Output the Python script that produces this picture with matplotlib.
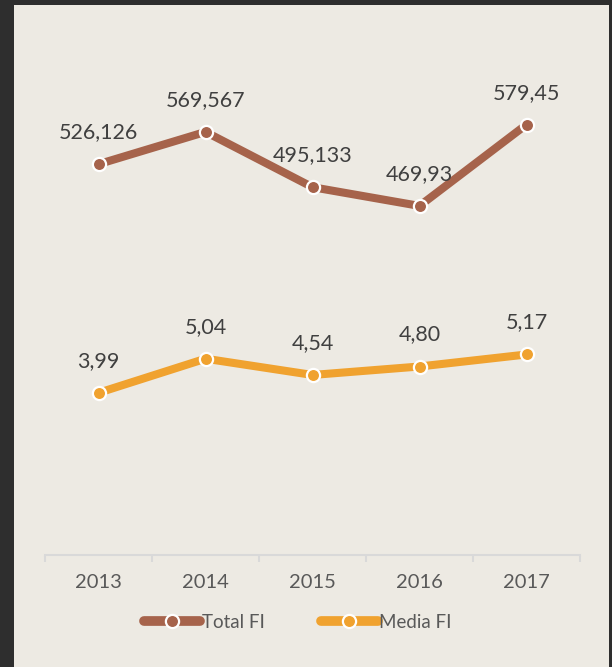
import matplotlib
matplotlib.use("Agg")
import matplotlib.pyplot as plt
from matplotlib.patches import Rectangle

years = ["2013", "2014", "2015", "2016", "2017"]
total_fi = [526.126, 569.567, 495.133, 469.93, 579.45]
media_fi = [3.99, 5.04, 4.54, 4.80, 5.17]

BROWN = "#A6634B"
ORANGE = "#F0A22F"
TXT = "#595959"
BG = "#EDEAE3"

plt.rcParams['font.family'] = ['Lato', 'DejaVu Sans']

W, H = 612, 667
fig = plt.figure(figsize=(W / 100, H / 100), dpi=100)
fig.patch.set_facecolor("#2e2e2e")
fig.patches.append(Rectangle((14 / W, 0), (609 - 14) / W, (H - 5) / H,
                             transform=fig.transFigure, facecolor=BG,
                             edgecolor="none", zorder=-10))

left, right = 45 / W, 580 / W
bottom, top = (H - 555) / H, (H - 35) / H
ax = fig.add_axes([left, bottom, right - left, top - bottom])
ax.set_facecolor("none")
ax2 = ax.twinx()
ax2.set_facecolor("none")

x = list(range(len(years)))
l1, = ax.plot(x, total_fi, color=BROWN, lw=5.8, marker="o", ms=9.5,
              mfc=BROWN, mec="white", mew=1.6, solid_capstyle="round",
              label="Total FI", zorder=3)
l2, = ax2.plot(x, media_fi, color=ORANGE, lw=5.8, marker="o", ms=9.5,
               mfc=ORANGE, mec="white", mew=1.6, solid_capstyle="round",
               label="Media FI", zorder=3)

ax.set_xlim(-0.5, len(years) - 0.5)
ax.set_ylim(0, 700)
ax2.set_ylim(-1, 15)

for xi, v in zip(x, total_fi):
    ax.annotate(str(v).replace(".", ","), (xi, v), xytext=(0, 23),
                textcoords="offset points", ha="center", va="center",
                fontsize=15.5, color="#404040")
for xi, v in zip(x, media_fi):
    ax2.annotate(f"{v:.2f}".replace(".", ","), (xi, v), xytext=(0, 23),
                 textcoords="offset points", ha="center", va="center",
                 fontsize=15.5, color="#404040")

for a in (ax, ax2):
    for s in ("top", "right", "left"):
        a.spines[s].set_visible(False)
    a.set_yticks([])
ax2.spines["bottom"].set_visible(False)
ax.spines["bottom"].set_color("#D9D9D9")
ax.spines["bottom"].set_linewidth(1.5)

ax.set_xticks(x)
ax.set_xticklabels(years, fontsize=14.5, color=TXT)
ax.tick_params(axis="x", which="major", length=0, pad=14)
ax.set_xticks([i - 0.5 for i in range(len(years) + 1)], minor=True)
ax.tick_params(axis="x", which="minor", length=5, width=1.5, color="#D9D9D9",
               direction="out")

leg = fig.legend(handles=[l1, l2], loc="center", bbox_to_anchor=(298 / W, (H - 622) / H),
                 ncol=2, frameon=False, fontsize=13.5, handlelength=3.0,
                 handletextpad=0.1, columnspacing=3.0, labelcolor=TXT)
for ln in leg.get_lines():
    ln.set_linewidth(7)
    ln.set_solid_capstyle("round")

fig.savefig("out.png", dpi=100, facecolor=fig.get_facecolor())
